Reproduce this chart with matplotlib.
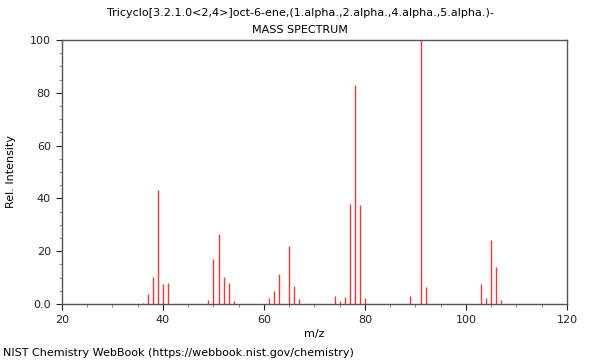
import matplotlib.pyplot as plt
from matplotlib.ticker import MultipleLocator, FuncFormatter

# m/z values and relative intensities
mz = [36, 37, 38, 39, 40, 41, 49, 50, 51, 52, 53, 54,
      61, 62, 63, 65, 66, 67, 74, 75, 76, 77, 78, 79, 80,
      89, 91, 92, 103, 104, 105, 106, 107]
intensity = [0.4, 3.7, 10.2, 43.2, 7.6, 7.9, 1.5, 17.2, 26.6, 10.2, 7.8, 1.3,
             2.1, 4.9, 11.4, 22.0, 6.7, 1.9, 3.2, 1.3, 2.7, 38.0, 83.0, 37.5, 2.1,
             3.0, 100.0, 6.4, 7.6, 2.3, 24.2, 14.0, 1.6]

title_lines = ["Tricyclo[3.2.1.0<2,4>]oct-6-ene,(1.alpha.,2.alpha.,4.alpha.,5.alpha.)-",
               "MASS SPECTRUM"]
footer = "NIST Chemistry WebBook (https://webbook.nist.gov/chemistry)"

plt.rcParams['font.family'] = 'DejaVu Sans'
fig = plt.figure(figsize=(6, 3.6), dpi=100)
ax = fig.add_axes([0.1033, 0.1556, 0.8417, 0.7333])

ax.vlines(mz, 0, intensity, color='#ff3333', linewidth=1.0)

ax.set_xlim(20, 120)
ax.set_ylim(0, 100)
ax.xaxis.set_major_locator(MultipleLocator(20))
ax.xaxis.set_minor_locator(MultipleLocator(5))
ax.yaxis.set_major_locator(MultipleLocator(20))
ax.yaxis.set_minor_locator(MultipleLocator(5))
ax.yaxis.set_major_formatter(FuncFormatter(lambda v, p: "0.0" if v == 0 else f"{v:.0f}"))
ax.tick_params(which='major', direction='out', length=4, width=0.8, labelsize=8,
               colors='#222222', pad=4)
ax.tick_params(which='minor', direction='out', length=2.5, width=0.6, colors='#777777')
for s in ax.spines.values():
    s.set_color('#555555')
    s.set_linewidth(1.0)

ax.set_xlabel("m/z", fontsize=8, labelpad=3)
ax.set_ylabel("Rel. Intensity", fontsize=8, labelpad=10)

fig.text(0.5, 0.963, title_lines[0], ha='center', va='center', fontsize=8)
fig.text(0.5, 0.916, title_lines[1], ha='center', va='center', fontsize=8)
fig.text(0.005, 0.02, footer, ha='left', va='center', fontsize=8)

fig.savefig("out.png", dpi=100)
